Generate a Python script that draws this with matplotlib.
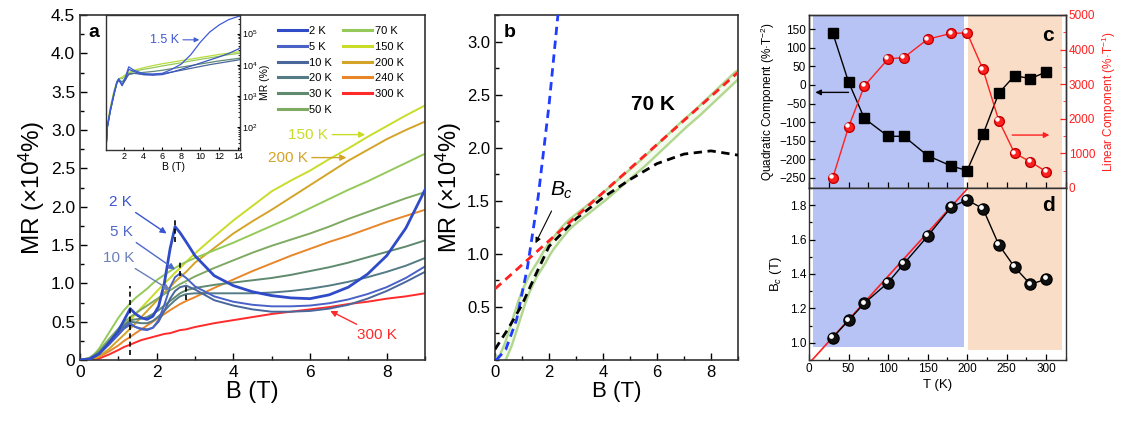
import matplotlib
matplotlib.use('Agg')
import matplotlib.pyplot as plt
import matplotlib.transforms as mtransforms
from matplotlib.ticker import MultipleLocator, FuncFormatter, FixedLocator, NullFormatter

plt.rcParams['font.family'] = ['Liberation Sans', 'DejaVu Sans']
plt.rcParams['mathtext.fontset'] = 'custom'
plt.rcParams['mathtext.rm'] = 'Liberation Sans'
plt.rcParams['mathtext.it'] = 'Liberation Sans:italic'
plt.rcParams['mathtext.bf'] = 'Liberation Sans:bold'
plt.rcParams['xtick.direction'] = 'in'
plt.rcParams['ytick.direction'] = 'in'

# ---- panel a: MR vs B at several temperatures (x10^4 %) ----
B = [0, 0.25, 0.5, 0.75, 1.0, 1.15, 1.31, 1.45, 1.6, 1.75, 1.9, 2.05, 2.2, 2.35,
     2.48, 2.61, 2.77, 3.0, 3.5, 4, 4.5, 5, 5.5, 6, 6.5, 7, 7.5, 8, 8.5, 9]
mr_2K = [0, 0.01, 0.08, 0.22, 0.38, 0.52, 0.67, 0.60, 0.55, 0.53, 0.57, 0.70, 1.0, 1.45,
         1.74, 1.66, 1.54, 1.36, 1.10, 0.97, 0.89, 0.84, 0.81, 0.80, 0.85, 0.95, 1.12, 1.36, 1.72, 2.22]
mr_5K = [0, 0.01, 0.08, 0.20, 0.33, 0.42, 0.48, 0.43, 0.40, 0.39, 0.42, 0.52, 0.72, 0.95,
         1.08, 1.13, 1.07, 0.96, 0.83, 0.76, 0.72, 0.70, 0.70, 0.71, 0.74, 0.79, 0.86, 0.95, 1.07, 1.22]
mr_10K = [0, 0.01, 0.08, 0.20, 0.33, 0.41, 0.46, 0.43, 0.41, 0.40, 0.42, 0.50, 0.64, 0.80,
          0.90, 0.95, 0.97, 0.92, 0.78, 0.71, 0.66, 0.63, 0.63, 0.64, 0.67, 0.72, 0.80, 0.90, 1.02, 1.15]
mr_20K = [0, 0.02, 0.09, 0.22, 0.36, 0.44, 0.50, 0.49, 0.48, 0.48, 0.51, 0.57, 0.64, 0.72,
          0.78, 0.83, 0.86, 0.87, 0.87, 0.87, 0.87, 0.88, 0.90, 0.93, 0.97, 1.02, 1.08, 1.15, 1.23, 1.33]
mr_30K = [0, 0.02, 0.10, 0.24, 0.38, 0.46, 0.52, 0.53, 0.54, 0.56, 0.60, 0.65, 0.71, 0.77,
          0.82, 0.87, 0.91, 0.94, 0.98, 1.01, 1.04, 1.07, 1.11, 1.16, 1.21, 1.27, 1.34, 1.41, 1.48, 1.56]
mr_50K = [0, 0.03, 0.12, 0.27, 0.41, 0.49, 0.56, 0.61, 0.66, 0.71, 0.76, 0.81, 0.86, 0.91,
          0.95, 0.99, 1.03, 1.09, 1.20, 1.30, 1.40, 1.49, 1.57, 1.65, 1.74, 1.84, 1.93, 2.02, 2.11, 2.19]
mr_70K = [0, 0.0, 0.15, 0.35, 0.55, 0.65, 0.74, 0.81, 0.87, 0.93, 1.0, 1.06, 1.11, 1.16,
          1.20, 1.24, 1.28, 1.33, 1.43, 1.53, 1.64, 1.75, 1.86, 1.98, 2.10, 2.22, 2.33, 2.45, 2.57, 2.69]
mr_150K = [0, 0.01, 0.10, 0.22, 0.35, 0.43, 0.52, 0.60, 0.68, 0.76, 0.84, 0.92, 1.0, 1.07,
           1.14, 1.20, 1.28, 1.39, 1.61, 1.82, 2.01, 2.20, 2.34, 2.47, 2.62, 2.76, 2.91, 3.05, 3.19, 3.32]
mr_200K = [0, 0.0, 0.05, 0.14, 0.26, 0.33, 0.41, 0.48, 0.56, 0.64, 0.72, 0.80, 0.88, 0.95,
           1.02, 1.08, 1.15, 1.27, 1.46, 1.65, 1.81, 1.96, 2.12, 2.28, 2.44, 2.60, 2.74, 2.88, 3.00, 3.11]
mr_240K = [0, 0.0, 0.04, 0.11, 0.19, 0.25, 0.30, 0.35, 0.40, 0.45, 0.50, 0.55, 0.60, 0.65,
           0.69, 0.73, 0.77, 0.82, 0.94, 1.05, 1.16, 1.26, 1.36, 1.45, 1.54, 1.62, 1.71, 1.80, 1.88, 1.96]
mr_300K = [0, 0, 0.02, 0.07, 0.13, 0.17, 0.20, 0.23, 0.26, 0.28, 0.30, 0.32, 0.34, 0.35,
           0.37, 0.39, 0.40, 0.43, 0.48, 0.52, 0.56, 0.60, 0.63, 0.66, 0.69, 0.73, 0.76, 0.80, 0.83, 0.87]

temps_a = ['2 K', '5 K', '10 K', '20 K', '30 K', '50 K', '70 K', '150 K', '200 K', '240 K', '300 K']
curves_a = [mr_2K, mr_5K, mr_10K, mr_20K, mr_30K, mr_50K, mr_70K, mr_150K, mr_200K, mr_240K, mr_300K]
colors_a = ['#2F4BC8', '#4A62C6', '#4A679C', '#537C84', '#5F8A6E', '#7FAA62', '#95C95A',
            '#C8DC28', '#D4A428', '#E8862A', '#FF2A2A']

# dashed markers at the peaks
peak_B = [1.31, 2.48, 2.61, 2.77]
peak_lo = [0.07, 1.54, 1.09, 0.78]
peak_hi = [0.96, 1.87, 1.28, 1.00]

# inset: log10(MR %) vs B up to 14 T
B_in = [0.05, 0.2, 0.5, 0.9, 1.2, 1.4, 1.75, 2.1, 2.45, 3, 4, 5, 6, 7, 8, 9, 10, 11, 12, 13, 14, 14.2]
log_1p5K = [1.3, 2.0, 2.5, 3.05, 3.45, 3.55, 3.35, 3.6, 3.93, 3.82, 3.71, 3.70, 3.72, 3.85, 4.02,
            4.32, 4.72, 5.05, 5.28, 5.45, 5.55, 5.57]
log_2K = [1.3, 2.0, 2.5, 3.05, 3.42, 3.52, 3.32, 3.55, 3.85, 3.78, 3.68, 3.66, 3.68, 3.76, 3.85,
          3.95, 4.05, 4.15, 4.25, 4.36, 4.5, 4.55]
log_10K = [1.3, 2.0, 2.5, 3.05, 3.4, 3.5, 3.35, 3.5, 3.7, 3.72, 3.68, 3.68, 3.71, 3.76, 3.82,
           3.88, 3.94, 4.0, 4.05, 4.1, 4.15, 4.17]
log_30K = [1.3, 2.0, 2.55, 3.1, 3.42, 3.5, 3.45, 3.55, 3.68, 3.72, 3.75, 3.78, 3.82, 3.87, 3.92,
           3.97, 4.02, 4.07, 4.12, 4.16, 4.2, 4.21]
log_70K = [1.3, 2.05, 2.6, 3.15, 3.45, 3.55, 3.55, 3.62, 3.72, 3.78, 3.85, 3.9, 3.96, 4.01, 4.06,
           4.12, 4.17, 4.22, 4.27, 4.32, 4.36, 4.37]
log_150K = [1.3, 2.05, 2.6, 3.15, 3.45, 3.55, 3.6, 3.68, 3.75, 3.82, 3.9, 3.97, 4.03, 4.08, 4.13,
            4.18, 4.23, 4.28, 4.33, 4.37, 4.41, 4.42]
inset_curves = [log_150K, log_70K, log_30K, log_10K, log_2K, log_1p5K]
inset_colors = ['#B8DC40', '#95C95A', '#5F8A6E', '#4A679C', '#3A55C0', '#3F5BD6']

# ---- panel b: 70 K curve with fits ----
fit_lin_B = [0, 9]
fit_lin_MR = [0.67, 2.71]
fit_quad_B = [0.05, 0.4, 0.8, 1.2, 1.6, 2.0, 2.35]
fit_quad_MR = [0.0, 0.10, 0.38, 0.87, 1.54, 2.40, 3.30]
fit_poly_B = [0, 0.5, 1, 1.5, 2, 3, 4, 5, 6, 7, 8, 9]
fit_poly_MR = [0.10, 0.30, 0.52, 0.80, 1.07, 1.33, 1.53, 1.70, 1.85, 1.94, 1.97, 1.93]

# ---- panels c, d ----
T = [30, 50, 70, 100, 120, 150, 180, 200, 220, 240, 260, 280, 300]
quad = [140, 8, -90, -138, -138, -190, -218, -230, -133, -22, 25, 17, 35]
linear = [290, 1760, 2950, 3730, 3770, 4300, 4470, 4480, 3430, 1950, 1005, 760, 470]
Bc = [1.03, 1.13, 1.23, 1.35, 1.46, 1.62, 1.79, 1.83, 1.78, 1.57, 1.44, 1.34, 1.37]
fit_T = [0, 212]
fit_Bc = [0.88, 1.955]
blue_span = (5, 196)
peach_span = (201, 320)

W, H = 1121, 421


def box(left, top, right, bottom):
    return [left / W, 1 - bottom / H, (right - left) / W, (bottom - top) / H]


def style_spines(ax, lw=1.2, color='#333333'):
    for s in ax.spines.values():
        s.set_linewidth(lw)
        s.set_color(color)


fig = plt.figure(figsize=(W / 100, H / 100), dpi=100)

# ================= panel a =================
ax_a = fig.add_axes(box(80, 15, 425, 360))
for lab, mr, col in zip(temps_a[::-1], curves_a[::-1], colors_a[::-1]):
    lw = 2.0 if lab == '2 K' else 1.4
    ax_a.plot(B, mr, color=col, lw=lw, label=lab, zorder=3 if lab == '2 K' else 2)
ax_a.vlines(peak_B, peak_lo, peak_hi, colors='black', linestyles=(0, (3, 2)), lw=1.2, zorder=4)
ax_a.set_xlim(0, 9)
ax_a.set_ylim(0, 4.5)
ax_a.xaxis.set_major_locator(MultipleLocator(2))
ax_a.xaxis.set_minor_locator(MultipleLocator(1))
ax_a.yaxis.set_major_locator(MultipleLocator(0.5))
ax_a.yaxis.set_minor_locator(MultipleLocator(0.25))
ax_a.yaxis.set_major_formatter(FuncFormatter(lambda v, p: '0' if v == 0 else f'{v:.1f}'))
ax_a.tick_params(labelsize=12.5, length=5, width=1)
ax_a.tick_params(which='minor', length=3, width=1)
ax_a.set_xlabel('B (T)', fontsize=17, labelpad=1)
ax_a.set_ylabel('MR (×10$^4$%)', fontsize=17.5, labelpad=3)
style_spines(ax_a)
ax_a.text(0.04, 0.95, 'a', transform=ax_a.transAxes, fontsize=14, fontweight='bold',
          ha='center', va='center')

handles, labels = ax_a.get_legend_handles_labels()
order = [labels.index(t) for t in temps_a]
leg = ax_a.legend([handles[i] for i in order], [labels[i] for i in order], ncol=2,
                  loc='upper left', bbox_to_anchor=(0.575, 0.968), frameon=False,
                  fontsize=8, handlelength=2.6, handletextpad=0.2, labelspacing=0.52,
                  columnspacing=1.0, borderpad=0, borderaxespad=0)
for ln in leg.get_lines():
    ln.set_linewidth(2.2)

arrow_kw = dict(arrowstyle='-|>', lw=1.0, mutation_scale=9, shrinkA=1, shrinkB=0)
ax_a.annotate('2 K', xy=(2.26, 1.65), xytext=(1.05, 2.06), color='#3A55D0', fontsize=11,
              ha='center', va='center', arrowprops=dict(color='#3A55D0', **arrow_kw))
ax_a.annotate('5 K', xy=(2.48, 1.18), xytext=(1.07, 1.67), color='#5068C8', fontsize=11,
              ha='center', va='center', arrowprops=dict(color='#5068C8', **arrow_kw))
ax_a.annotate('10 K', xy=(2.35, 0.91), xytext=(1.0, 1.33), color='#6A80B8', fontsize=11,
              ha='center', va='center', arrowprops=dict(color='#6A80B8', **arrow_kw))
ax_a.annotate('150 K', xy=(7.44, 2.94), xytext=(5.95, 2.94), color='#C8DC28', fontsize=11,
              ha='center', va='center', arrowprops=dict(color='#C8DC28', **arrow_kw))
ax_a.annotate('200 K', xy=(6.95, 2.64), xytext=(5.42, 2.64), color='#D4A428', fontsize=11,
              ha='center', va='center', arrowprops=dict(color='#D4A428', **arrow_kw))
ax_a.annotate('300 K', xy=(6.53, 0.64), xytext=(7.75, 0.33), color='#FF2A2A', fontsize=11,
              ha='center', va='center', arrowprops=dict(color='#FF2A2A', **arrow_kw))

# inset
ax_in = fig.add_axes(box(106, 15, 240, 150))
for lg, col in zip(inset_curves, inset_colors):
    ax_in.plot(B_in, [10 ** v for v in lg], color=col, lw=0.9)
ax_in.set_yscale('log')
ax_in.set_xlim(0.05, 14.2)
ax_in.set_ylim(10 ** 1.25, 10 ** 5.6)
ax_in.set_xticks([2, 4, 6, 8, 10, 12, 14])
ax_in.yaxis.tick_right()
ax_in.yaxis.set_label_position('right')
ax_in.yaxis.set_major_locator(FixedLocator([1e2, 1e3, 1e4, 1e5]))
ax_in.yaxis.set_minor_formatter(NullFormatter())
ax_in.tick_params(labelsize=6.5, length=2.5, width=0.8, pad=1.5)
ax_in.tick_params(which='minor', length=1.5, width=0.6)
ax_in.set_xlabel('B (T)', fontsize=7.5, labelpad=1)
ax_in.set_ylabel('MR (%)', fontsize=7.5, labelpad=2)
style_spines(ax_in, lw=1.0)
ax_in.annotate('1.5 K', xy=(9.9, 10 ** 4.8), xytext=(6.2, 10 ** 4.8), color='#3F5BD6',
               fontsize=9, ha='center', va='center',
               arrowprops=dict(arrowstyle='-|>', color='#3F5BD6', lw=0.8, mutation_scale=7,
                               shrinkA=1, shrinkB=0))

# ================= panel b =================
ax_b = fig.add_axes(box(495, 15, 738, 360))
ax_b.plot(B, mr_70K, color='#B2D890', lw=7, solid_capstyle='round', zorder=2)
ax_b.plot(B, mr_70K, color='#F4FAEE', lw=3.5, solid_capstyle='round', zorder=2)
ax_b.plot(fit_quad_B, fit_quad_MR, color='#1F3CFF', lw=2, ls=(0, (3, 2)), zorder=3)
ax_b.plot(fit_poly_B, fit_poly_MR, color='black', lw=2, ls=(0, (3, 2)), zorder=3)
ax_b.plot(fit_lin_B, fit_lin_MR, color='#FF2020', lw=2, ls=(0, (3, 2)), zorder=4)
ax_b.set_xlim(0, 9)
ax_b.set_ylim(0, 3.25)
ax_b.xaxis.set_major_locator(MultipleLocator(2))
ax_b.xaxis.set_minor_locator(MultipleLocator(1))
ax_b.set_yticks([0.5, 1.0, 1.5, 2.0, 2.5, 3.0])
ax_b.yaxis.set_minor_locator(MultipleLocator(0.25))
ax_b.tick_params(labelsize=12, length=5, width=1)
ax_b.tick_params(which='minor', length=3, width=1)
ax_b.set_xlabel('B (T)', fontsize=16, labelpad=1)
ax_b.set_ylabel('MR (×10$^4$%)', fontsize=17, labelpad=2)
style_spines(ax_b)
ax_b.text(0.062, 0.95, 'b', transform=ax_b.transAxes, fontsize=14, fontweight='bold',
          ha='center', va='center')
ax_b.text(5.85, 2.41, '70 K', fontsize=15, fontweight='bold', ha='center', va='center')
ax_b.annotate('$B_c$', xy=(1.5, 1.1), xytext=(2.48, 1.6), fontsize=15, ha='center', va='center',
              arrowprops=dict(arrowstyle='-|>', color='black', lw=0.8, mutation_scale=8,
                              shrinkA=6, shrinkB=0))

# ================= panel c =================
ax_c = fig.add_axes(box(809, 15, 1066, 188))
ax_c.axvspan(*blue_span, color='#B8C3F5', lw=0, zorder=0)
ax_c.axvspan(*peach_span, color='#F9DDC7', lw=0, zorder=0)
ax_c.plot(T, quad, color='black', lw=1, marker='s', ms=7, mfc='black', mec='black', zorder=3)
ax_c.set_xlim(0, 325)
ax_c.set_ylim(-277, 188)
ax_c.yaxis.set_major_locator(MultipleLocator(50))
ax_c.xaxis.set_major_locator(MultipleLocator(50))
ax_c.xaxis.set_minor_locator(MultipleLocator(25))
ax_c.tick_params(labelbottom=False, labelsize=8.5, length=4, width=0.9, pad=2)
ax_c.tick_params(which='minor', length=4, width=0.9)
ax_c.set_ylabel('Quadratic Component (%·T$^{-2}$)', fontsize=8.5, labelpad=2)
ax_c.annotate('', xy=(8, -20), xytext=(50, -20),
              arrowprops=dict(arrowstyle='-|>', color='black', lw=1, mutation_scale=8,
                              shrinkA=0, shrinkB=0))

ax_c2 = ax_c.twinx()
ax_c2.plot(T, linear, color='#FF2020', lw=1, marker='o', ms=7, mfc='#FF2020', mec='#C00000',
           zorder=3)
hl = mtransforms.ScaledTranslation(-1.2 / 72, 1.2 / 72, fig.dpi_scale_trans)
ax_c2.plot(T, linear, ls='none', marker='o', ms=2.2, color='white', transform=ax_c2.transData + hl,
           zorder=4)
ax_c2.set_ylim(0, 5000)
ax_c2.yaxis.set_major_locator(MultipleLocator(1000))
ax_c2.yaxis.set_minor_locator(MultipleLocator(500))
ax_c2.tick_params(axis='y', colors='#FF2020', labelsize=8.5, length=4, width=0.9, pad=2)
ax_c2.tick_params(axis='y', which='minor', colors='#FF2020', length=2.5)
ax_c2.set_ylabel('Linear Component (%·T$^{-1}$)', fontsize=8.5, color='#FF2020', labelpad=3)
ax_c2.annotate('', xy=(304, 1530), xytext=(257, 1530),
               arrowprops=dict(arrowstyle='-|>', color='#FF2020', lw=1, mutation_scale=8,
                               shrinkA=0, shrinkB=0))
style_spines(ax_c, lw=1.0)
style_spines(ax_c2, lw=1.0)
ax_c2.text(0.93, 0.88, 'c', transform=ax_c2.transAxes, fontsize=15, fontweight='bold',
           ha='center', va='center')

# ================= panel d =================
ax_d = fig.add_axes(box(809, 188, 1066, 360))
ax_d.axvspan(*blue_span, ymin=0.075, color='#B8C3F5', lw=0, zorder=0)
ax_d.axvspan(*peach_span, ymin=0.06, color='#F9DDC7', lw=0, zorder=0)
ax_d.plot(fit_T, fit_Bc, color='#FF2020', lw=1.2, zorder=2)
ax_d.plot(T, Bc, color='black', lw=1, marker='o', ms=8, mfc='#111111', mec='black', zorder=3)
ax_d.plot(T, Bc, ls='none', marker='o', ms=2.4, color='white', transform=ax_d.transData + hl,
          zorder=4)
ax_d.set_xlim(0, 325)
ax_d.set_ylim(0.9, 1.9)
ax_d.xaxis.set_major_locator(MultipleLocator(50))
ax_d.xaxis.set_minor_locator(MultipleLocator(25))
ax_d.yaxis.set_major_locator(MultipleLocator(0.2))
ax_d.yaxis.set_minor_locator(MultipleLocator(0.1))
ax_d.yaxis.set_major_formatter(FuncFormatter(lambda v, p: f'{v:.1f}'))
ax_d.tick_params(labelsize=8.5, length=4, width=0.9, pad=2)
ax_d.tick_params(which='minor', length=2.5, width=0.9)
ax_d.set_xlabel('T (K)', fontsize=9.5, labelpad=3)
ax_d.set_ylabel('B$_c$ (T)', fontsize=9.5, labelpad=4)
style_spines(ax_d, lw=1.0)
ax_d.text(0.93, 0.9, 'd', transform=ax_d.transAxes, fontsize=15, fontweight='bold',
          ha='center', va='center')

fig.savefig('out.png', dpi=100)
